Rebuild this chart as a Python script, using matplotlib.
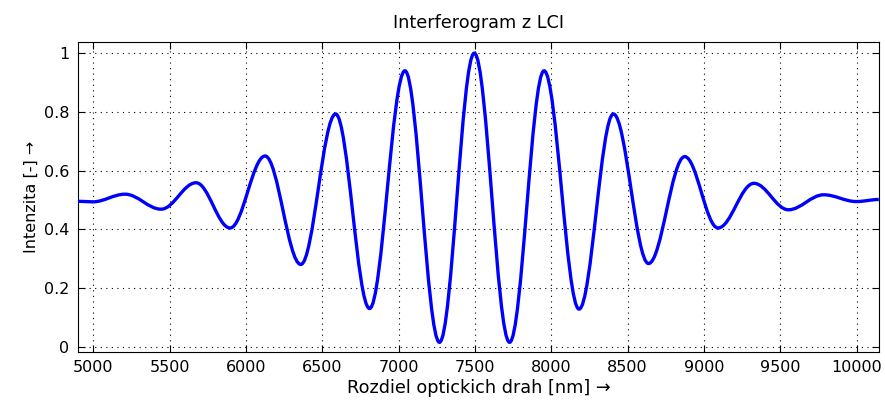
import numpy as np
import matplotlib
matplotlib.use('Agg')
import matplotlib.pyplot as plt
from matplotlib.path import Path
from matplotlib.patches import PathPatch
from matplotlib.ticker import FormatStrFormatter

# Extrema of the interferogram (plus the two end points)
opd_nm = [4900, 4997, 5209, 5445, 5674, 5897, 6126, 6360, 6588, 6810, 7042, 7268,
          7496, 7727, 7953, 8182, 8407, 8637, 8874, 9092, 9327, 9553, 9784, 9998, 10145]
intensity = [0.496, 0.494, 0.520, 0.469, 0.559, 0.405, 0.650, 0.281, 0.793, 0.131, 0.940, 0.016,
             1.000, 0.016, 0.940, 0.129, 0.793, 0.284, 0.648, 0.405, 0.557, 0.467, 0.518, 0.495, 0.502]

x_ticks = [5000, 5500, 6000, 6500, 7000, 7500, 8000, 8500, 9000, 9500, 10000]
y_ticks = [0, 0.2, 0.4, 0.6, 0.8, 1.0]

plt.rcParams['font.family'] = ['DejaVu Sans']
plt.rcParams['font.size'] = 11.5

fig = plt.figure(figsize=(8.85, 4.01), dpi=100)
ax = fig.add_axes([0.088, 0.123, 0.905, 0.7715])

# smooth curve through the extrema: cubic Bezier with flat tangents at each extremum
k = 0.363
verts = [(opd_nm[0], intensity[0])]
codes = [Path.MOVETO]
for i in range(len(opd_nm) - 1):
    x0, y0 = opd_nm[i], intensity[i]
    x1, y1 = opd_nm[i + 1], intensity[i + 1]
    dx = x1 - x0
    verts += [(x0 + k * dx, y0), (x1 - k * dx, y1), (x1, y1)]
    codes += [Path.CURVE4] * 3
ax.add_patch(PathPatch(Path(verts, codes), fill=False, edgecolor='#0000ff', lw=2.4,
                       transform=ax.transData, zorder=3))

ax.set_xlim(4900, 10145)
ax.set_ylim(-0.016, 1.037)
ax.set_xticks(x_ticks)
ax.set_yticks(y_ticks)
ax.yaxis.set_major_formatter(FormatStrFormatter('%g'))

ax.grid(True, color='black', linestyle=(0, (1, 4)), linewidth=0.8)
ax.tick_params(direction='in', top=True, right=True, length=5, width=0.8, pad=6, colors='black')
for s in ax.spines.values():
    s.set_linewidth(0.8)

ax.set_title('Interferogram z LCI', fontsize=12.7, pad=10)
ax.set_xlabel('Rozdiel optickich drah [nm] \u2192', fontsize=12.7, labelpad=3)
ax.set_ylabel('Intenzita [-] \u2192', labelpad=4)

fig.savefig('out.png', dpi=100)
